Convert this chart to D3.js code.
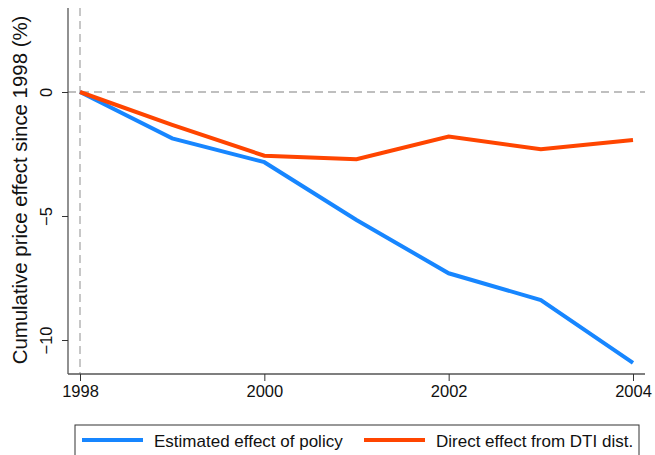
<!DOCTYPE html>
<html>
<head>
<meta charset="utf-8">
<script src="https://cdn.jsdelivr.net/npm/d3@7"></script>
<style>
  html, body { margin: 0; padding: 0; background: #fff; }
  svg { display: block; font-family: "Liberation Sans", Arial, sans-serif; }
</style>
</head>
<body>
<svg id="chart" width="655" height="455"></svg>
<script>
// Cumulative price effect since 1998 (%)
const years = [1998, 1999, 2000, 2001, 2002, 2003, 2004];
const estimatedEffect = [0, -1.87, -2.83, -5.16, -7.31, -8.39, -10.92];
const directEffect = [0, -1.33, -2.57, -2.71, -1.80, -2.31, -1.94];
const xTicks = [1998, 2000, 2002, 2004];
const yTicks = [0, -5, -10];
const seriesNames = ["Estimated effect of policy", "Direct effect from DTI dist."];
const seriesColors = ["#1786ff", "#ff4500"];

const svg = d3.select("#chart");
const plotLeft = 68, plotRight = 645, plotTop = 8, plotBottom = 374;

const x = d3.scaleLinear().domain([1998, 2004]).range([80, 633]);
const y = d3.scaleLinear().domain([0, -10]).range([92, 340]);

// reference dashed lines at zero and at the base year
svg.append("line")
  .attr("x1", plotLeft).attr("x2", plotRight)
  .attr("y1", y(0)).attr("y2", y(0))
  .attr("stroke", "#aaa").attr("stroke-width", 1.3)
  .attr("stroke-dasharray", "8,5");
svg.append("line")
  .attr("x1", x(1998)).attr("x2", x(1998))
  .attr("y1", plotTop).attr("y2", plotBottom)
  .attr("stroke", "#aaa").attr("stroke-width", 1.3)
  .attr("stroke-dasharray", "8,5");

// axes
const xAxis = svg.append("g")
  .attr("transform", `translate(0,${plotBottom})`)
  .call(d3.axisBottom(x).tickValues(xTicks).tickFormat(d3.format("d")).tickSize(7).tickSizeOuter(0));
xAxis.select(".domain").attr("d", `M${plotLeft},0H${plotRight}`);

const yAxis = svg.append("g")
  .attr("transform", `translate(${plotLeft},0)`)
  .call(d3.axisLeft(y).tickValues(yTicks).tickFormat(d3.format("d")).tickSize(6).tickSizeOuter(0));
yAxis.select(".domain").attr("d", `M0,${plotTop}V${plotBottom}`);

[xAxis, yAxis].forEach(g => {
  g.select(".domain").attr("stroke", "#555").attr("stroke-width", 1.3);
  g.selectAll(".tick line").attr("stroke", "#333").attr("stroke-width", 1);
  g.selectAll(".tick text").attr("font-size", 16.5).attr("fill", "#111")
    .attr("font-family", "'Liberation Sans', Arial, sans-serif");
});
xAxis.selectAll(".tick text").attr("dy", 0).attr("y", 23);
yAxis.selectAll(".tick text")
  .attr("transform", "rotate(-90)")
  .attr("x", 0).attr("y", -16)
  .attr("dy", 0)
  .attr("text-anchor", "middle");

// y axis title
svg.append("text")
  .attr("transform", "translate(27,190) rotate(-90)")
  .attr("text-anchor", "middle")
  .attr("font-size", 20.4)
  .attr("fill", "#111")
  .text("Cumulative price effect since 1998 (%)");

// series lines
const line = d3.line().x((d, i) => x(years[i])).y(d => y(d));
[estimatedEffect, directEffect].forEach((vals, i) => {
  svg.append("path")
    .datum(vals)
    .attr("d", line)
    .attr("fill", "none")
    .attr("stroke", seriesColors[i])
    .attr("stroke-width", 4)
    .attr("stroke-linejoin", "miter");
});

// legend
const legend = svg.append("g");
legend.append("rect")
  .attr("x", 75).attr("y", 425).attr("width", 564).attr("height", 40)
  .attr("fill", "#fff").attr("stroke", "#333").attr("stroke-width", 1);
const legendX = [82, 364];
seriesNames.forEach((name, i) => {
  legend.append("line")
    .attr("x1", legendX[i]).attr("x2", legendX[i] + 61)
    .attr("y1", 440).attr("y2", 440)
    .attr("stroke", seriesColors[i]).attr("stroke-width", 4);
  legend.append("text")
    .attr("x", legendX[i] + 72).attr("y", 447)
    .attr("font-size", 17).attr("fill", "#111")
    .text(name);
});
</script>
</body>
</html>
